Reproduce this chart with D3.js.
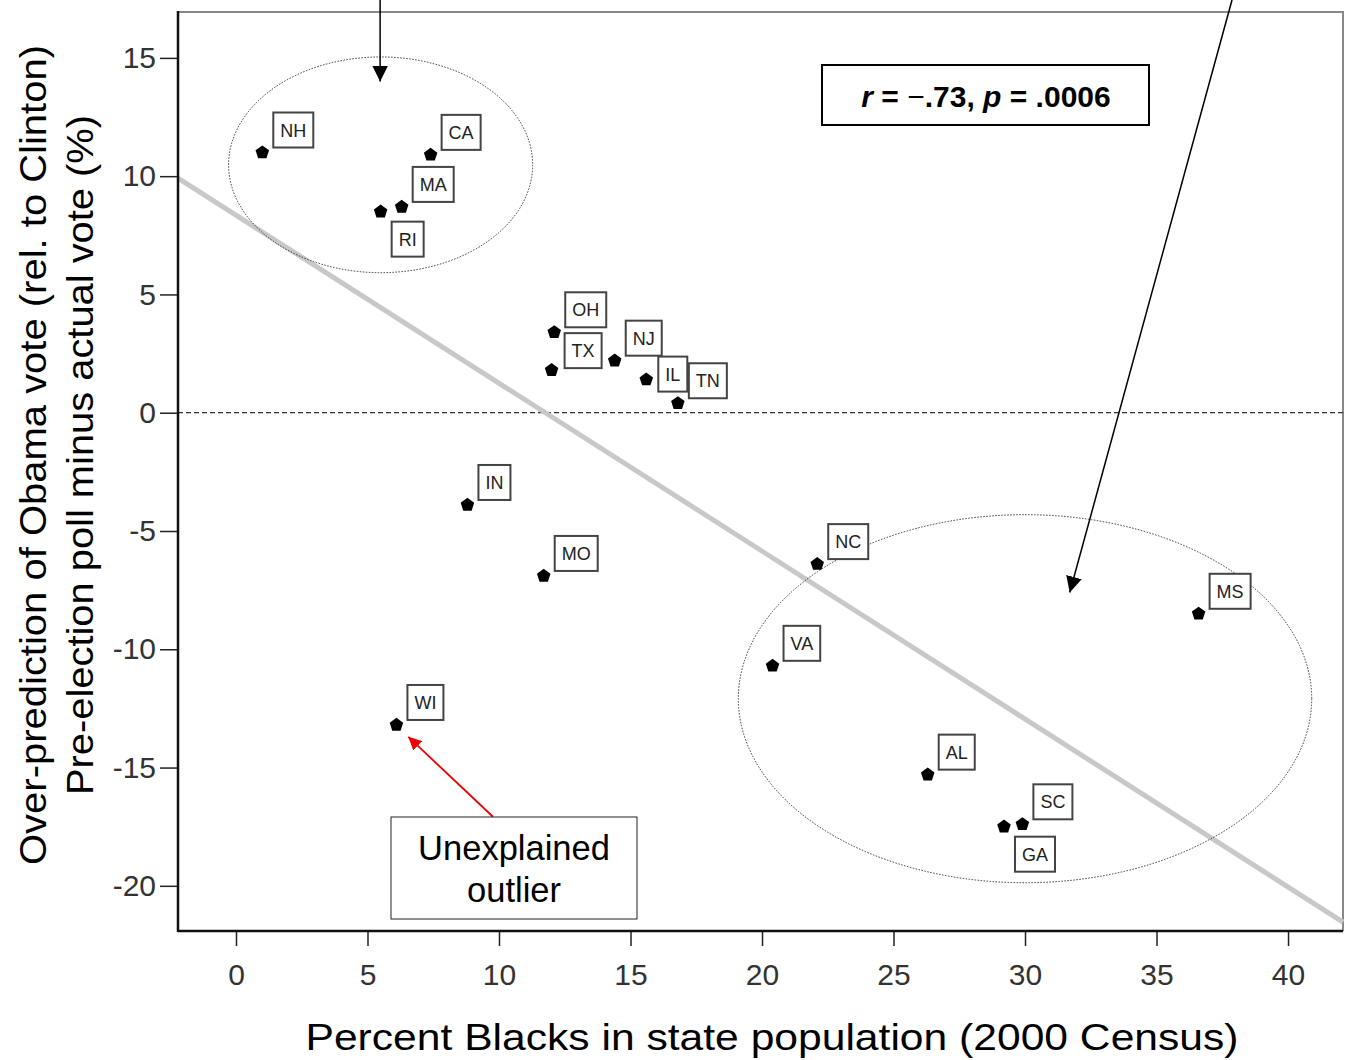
<!DOCTYPE html>
<html>
<head>
  <meta charset="utf-8">
  <title>Over-prediction of Obama vote vs percent Blacks</title>
  <script src="https://cdn.jsdelivr.net/npm/d3@7"></script>
  <style type="text/css">
    body { margin: 0; background: #fff; }
    svg { display: block; font-family: Arial, "Liberation Sans", Helvetica, sans-serif; }
    .tick text { fill: #333; }
  </style>
</head>
<body>
  <svg id="chart" width="1347" height="1060"></svg>
  <script type="text/javascript">

  // states, percent Black (2000 census), over-prediction of Obama vote (%)
  const states = ["NH", "CA", "MA", "RI", "OH", "TX", "NJ", "IL", "TN", "IN", "MO", "WI", "NC", "VA", "MS", "AL", "SC", "GA"];
  const pctBlack = [1.0, 7.4, 6.3, 5.5, 12.1, 12.0, 14.4, 15.6, 16.8, 8.8, 11.7, 6.1, 22.1, 20.4, 36.6, 26.3, 29.9, 29.2];
  const overPred = [11.0, 10.9, 8.7, 8.5, 3.4, 1.8, 2.2, 1.4, 0.4, -3.9, -6.9, -13.2, -6.4, -10.7, -8.5, -15.3, -17.4, -17.5];

  const xTicks = [0, 5, 10, 15, 20, 25, 30, 35, 40];
  const yTicks = [15, 10, 5, 0, -5, -10, -15, -20];

  // fit line (intercept, slope)
  const fit = [8.35, -0.71];

  // ellipses round the two groups: cx, cy, rx, ry in data units
  const groups = [[5.5, 10.48, 5.78, 4.56], [30.0, -12.09, 10.9, 7.78]];

  // annotation arrows: [x1, y1, x2, y2] in data units
  const pointers = [[5.48, 17.45, 5.48, 14.0], [37.87, 17.45, 31.7, -7.6]];
  const outlierArrow = [9.77, -17.08, 6.55, -13.7];

  const data = states.map((s, i) => ({ state: s, x: pctBlack[i], y: overPred[i] }));

  // label nudges (px) for the few labels that do not sit up-right of the point
  const nudge = { RI: [0, 50], GA: [0, 50], IL: [1, 17], TX: [2, 3] };

  const svg = d3.select('#chart');
  const mLeft = 178, mTop = 12, mRight = 1343, mBottom = 931;

  const x = d3.scaleLinear().domain([-2.205, 42.09]).range([mLeft, mRight]);
  const y = d3.scaleLinear().domain([-21.91, 16.94]).range([mBottom, mTop]);

  svg.append('defs').selectAll('marker')
    .data([['headBlack', '#000', 16], ['headRed', '#e00', 13]])
    .join('marker')
      .attr('id', (d) => d[0])
      .attr('viewBox', '0 0 10 10')
      .attr('refX', 10).attr('refY', 5)
      .attr('markerWidth', (d) => d[2]).attr('markerHeight', (d) => d[2])
      .attr('markerUnits', 'userSpaceOnUse')
      .attr('orient', 'auto')
    .append('path')
      .attr('d', 'M0,0 L10,5 L0,10 z')
      .attr('fill', (d) => d[1]);

  // frame
  svg.append('path')
    .attr('d', `M${mLeft},${mTop} H${mRight} V${mBottom}`)
    .attr('fill', 'none').attr('stroke', '#888').attr('stroke-width', 2);

  // zero line
  svg.append('line')
    .attr('x1', mLeft).attr('x2', mRight)
    .attr('y1', y(0)).attr('y2', y(0))
    .attr('stroke', '#333').attr('stroke-width', 1.3).attr('stroke-dasharray', '5,3');

  // fit line
  const xd = x.domain();
  svg.append('line')
    .attr('x1', x(xd[0])).attr('y1', y(fit[0] + fit[1] * xd[0]))
    .attr('x2', x(xd[1])).attr('y2', y(fit[0] + fit[1] * xd[1]))
    .attr('stroke', '#c8c8c8').attr('stroke-width', 5);

  // group ellipses
  svg.selectAll('ellipse.group').data(groups).join('ellipse')
    .attr('class', 'group')
    .attr('cx', (d) => x(d[0])).attr('cy', (d) => y(d[1]))
    .attr('rx', (d) => x(d[2]) - x(0)).attr('ry', (d) => y(0) - y(d[3]))
    .attr('fill', 'none').attr('stroke', '#222').attr('stroke-width', 0.9)
    .attr('stroke-dasharray', '1.5,1.5');

  // axes
  const xAxis = svg.append('g')
    .attr('transform', `translate(0,${mBottom})`)
    .call(d3.axisBottom(x).tickValues(xTicks).tickSize(15).tickPadding(18));
  xAxis.select('.domain').remove();
  xAxis.selectAll('.tick line').attr('stroke', '#222').attr('stroke-width', 1.5);
  xAxis.selectAll('.tick text').attr('font-size', 30).attr('font-family', 'Arial, "Liberation Sans", sans-serif');

  const yAxis = svg.append('g')
    .attr('transform', `translate(${mLeft},0)`)
    .call(d3.axisLeft(y).tickValues(yTicks).tickFormat((d) => String(d)).tickSize(18).tickPadding(4));
  yAxis.select('.domain').remove();
  yAxis.selectAll('.tick line').attr('stroke', '#222').attr('stroke-width', 1.5);
  yAxis.selectAll('.tick text').attr('font-size', 30).attr('font-family', 'Arial, "Liberation Sans", sans-serif');

  svg.append('line').attr('x1', mLeft).attr('x2', mLeft).attr('y1', mTop - 1).attr('y2', mBottom + 1)
    .attr('stroke', '#111').attr('stroke-width', 2.5);
  svg.append('line').attr('x1', mLeft).attr('x2', mRight).attr('y1', mBottom).attr('y2', mBottom)
    .attr('stroke', '#111').attr('stroke-width', 2.5);

  // axis titles
  svg.append('text')
    .attr('x', 772).attr('y', 1050)
    .attr('text-anchor', 'middle').attr('font-size', 37)
    .attr('textLength', 933).attr('lengthAdjust', 'spacingAndGlyphs')
    .text('Percent Blacks in state population (2000 Census)');

  const yTitle = svg.append('g').attr('transform', 'translate(0,455) rotate(-90)');
  yTitle.append('text')
    .attr('x', 0).attr('y', 46)
    .attr('text-anchor', 'middle').attr('font-size', 36)
    .attr('textLength', 820).attr('lengthAdjust', 'spacingAndGlyphs')
    .text('Over-prediction of Obama vote (rel. to Clinton)');
  yTitle.append('text')
    .attr('x', 0).attr('y', 93)
    .attr('text-anchor', 'middle').attr('font-size', 36)
    .attr('textLength', 680).attr('lengthAdjust', 'spacingAndGlyphs')
    .text('Pre-election poll minus actual vote (%)');

  // pointer arrows
  svg.selectAll('line.pointer').data(pointers).join('line')
    .attr('class', 'pointer')
    .attr('x1', (d) => x(d[0])).attr('y1', (d) => y(d[1]))
    .attr('x2', (d) => x(d[2])).attr('y2', (d) => y(d[3]))
    .attr('stroke', '#000').attr('stroke-width', 1.5)
    .attr('marker-end', 'url(#headBlack)');

  svg.append('line')
    .attr('x1', x(outlierArrow[0])).attr('y1', y(outlierArrow[1]))
    .attr('x2', x(outlierArrow[2])).attr('y2', y(outlierArrow[3]))
    .attr('stroke', '#e00').attr('stroke-width', 1.8)
    .attr('marker-end', 'url(#headRed)');

  // points
  const pentagon = {
    draw(ctx, size) {
      const r = Math.sqrt(size / 2.378);
      for (let k = 0; k < 5; k++) {
        const a = -Math.PI / 2 + k * 2 * Math.PI / 5;
        if (k === 0) ctx.moveTo(r * Math.cos(a), r * Math.sin(a));
        else ctx.lineTo(r * Math.cos(a), r * Math.sin(a));
      }
      ctx.closePath();
    }
  };
  svg.selectAll('path.pt').data(data).join('path')
    .attr('class', 'pt')
    .attr('transform', (d) => `translate(${x(d.x)},${y(d.y)})`)
    .attr('d', d3.symbol().type(pentagon).size(120))
    .attr('fill', '#000');

  // state labels
  const lab = svg.selectAll('g.lab').data(data).join('g')
    .attr('class', 'lab')
    .attr('transform', (d) => {
      const n = nudge[d.state] || [0, 0];
      return `translate(${x(d.x) + 11 + n[0]},${y(d.y) - 5 + n[1]})`;
    });
  lab.append('text')
    .attr('font-size', 18).attr('fill', '#222')
    .attr('y', -11)
    .text((d) => d.state);
  lab.each(function () {
    const g = d3.select(this);
    const t = g.select('text');
    const w = t.node().getComputedTextLength();
    t.attr('x', 7);
    g.insert('rect', 'text')
      .attr('x', 0).attr('y', -35)
      .attr('width', w + 14).attr('height', 35)
      .attr('fill', '#fff').attr('stroke', '#444').attr('stroke-width', 2);
  });

  // stats box
  svg.append('rect')
    .attr('x', 822).attr('y', 65).attr('width', 327).attr('height', 60)
    .attr('fill', '#fff').attr('stroke', '#000').attr('stroke-width', 2);
  const stat = svg.append('text')
    .attr('x', 986).attr('y', 107)
    .attr('text-anchor', 'middle').attr('font-size', 30).attr('font-weight', 'bold');
  stat.append('tspan').attr('font-style', 'italic').text('r');
  stat.append('tspan').text(' = ');
  stat.append('tspan').attr('font-weight', 'normal').text('\u2212');
  stat.append('tspan').text('.73, ');
  stat.append('tspan').attr('font-style', 'italic').text('p');
  stat.append('tspan').text(' = .0006');

  // outlier note
  svg.append('rect')
    .attr('x', 391).attr('y', 817).attr('width', 246).attr('height', 102)
    .attr('fill', '#fff').attr('stroke', '#222').attr('stroke-width', 1);
  svg.selectAll('text.note').data(['Unexplained', 'outlier']).join('text')
    .attr('class', 'note')
    .attr('x', 514).attr('y', (d, i) => 860 + i * 42)
    .attr('text-anchor', 'middle').attr('font-size', 34.5)
    .text((d) => d);
  </script>
</body>
</html>
